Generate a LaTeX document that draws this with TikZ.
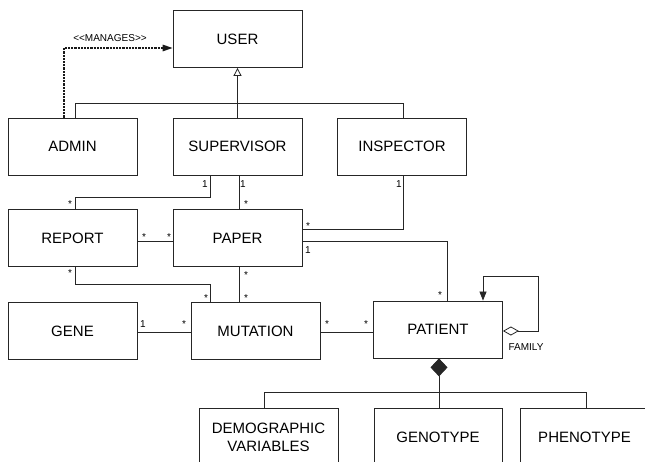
\documentclass[tikz,border=0pt]{standalone}
\usepackage{fontspec}
\setmainfont{Liberation Sans}
\usetikzlibrary{arrows.meta}

\tikzset{
  cls/.style={draw, minimum width=129pt, minimum height=57pt, inner sep=0pt,
    align=center, font=\fontsize{15}{18}\selectfont},
  lnk/.style={line width=0.8pt, draw=black!85},
  mult/.style={inner sep=0pt, font=\fontsize{10}{12}\selectfont},
  small/.style={inner sep=0pt, font=\fontsize{10}{12}\selectfont},
}

\begin{document}
\begin{tikzpicture}[x=1pt, y=-1pt, line width=0.8pt, draw=black!85]
\useasboundingbox (0,0) rectangle (645,462);
\clip (0,0) rectangle (645,462);

% classes
\node[cls] (USER)       at (237.5, 39)   {USER};
\node[cls] (ADMIN)      at (72.5, 146.5) {ADMIN};
\node[cls] (SUPERVISOR) at (237.5, 146.5){SUPERVISOR};
\node[cls] (INSPECTOR)  at (402, 146.5)  {INSPECTOR};
\node[cls] (REPORT)     at (72.5, 238)   {REPORT};
\node[cls] (PAPER)      at (237.5, 238)  {PAPER};
\node[cls] (GENE)       at (72.5, 331)   {GENE};
\node[cls] (MUTATION)   at (255.5, 331)  {MUTATION};
\node[cls] (PATIENT)    at (438, 329.5)  {PATIENT};
\node[cls, minimum width=139pt] (DEMO) at (268.5, 437) {DEMOGRAPHIC\\VARIABLES};
\node[cls, minimum width=128pt] (GENO) at (438, 437)   {GENOTYPE};
\node[cls, minimum width=129pt] (PHENO) at (584.5, 437) {PHENOTYPE};

% generalization of the user roles
\coordinate (gA) at (75,103);
\coordinate (gI) at (403,103);
\draw[lnk, -{Triangle[open, length=8pt, width=8pt]}] (SUPERVISOR.north) -- (USER.south);
\draw[lnk] (gA |- ADMIN.north) -- (gA) -- (gI) -- (gI |- INSPECTOR.north);

% dependency
\coordinate (m) at (64,48);
\draw[lnk, line width=1.4pt, draw=black!90, dash pattern=on 2.2pt off 1pt, -{Triangle[length=10pt, width=6.5pt]}]
  (m |- ADMIN.north) -- (m) -- (m -| USER.west);
\node[small] (mlab) at (110,38) {<{}<MANAGES>{}>};

% associations
\coordinate (sr) at (210,197);
\coordinate (rx) at (75,197);
\draw[lnk] (sr |- SUPERVISOR.south) -- (sr) -- (rx) -- (rx |- REPORT.north);
\coordinate (sp) at (239,0);
\draw[lnk] (sp |- SUPERVISOR.south) -- (sp |- PAPER.north);
\coordinate (rp) at (0,241);
\draw[lnk] (REPORT.east |- rp) -- (PAPER.west |- rp);
\coordinate (rm1) at (75,284);
\coordinate (rm2) at (210,284);
\draw[lnk] (rm1 |- REPORT.south) -- (rm1) -- (rm2) -- (rm2 |- MUTATION.north);
\draw[lnk] (sp |- PAPER.south) -- (sp |- MUTATION.north);
\coordinate (ip) at (403,229);
\draw[lnk] (ip |- INSPECTOR.south) -- (ip) -- (ip -| PAPER.east);
\coordinate (pp) at (447,241);
\draw[lnk] (PAPER.east |- pp) -- (pp) -- (pp |- PATIENT.north);
\coordinate (gm) at (0,332);
\draw[lnk] (GENE.east |- gm) -- (MUTATION.west |- gm);
\draw[lnk] (MUTATION.east |- gm) -- (PATIENT.west |- gm);

% family self association
\coordinate (f1) at (538,331);
\coordinate (f2) at (483,276);
\draw[lnk, {Diamond[open, length=16pt, width=9pt]}-{Triangle[length=9pt, width=7pt]}]
  (PATIENT.east |- f1) -- (f1) -- (f1 |- f2) -- (f2) -- (f2 |- PATIENT.north);
\node[small] (flab) at (526,347.5) {FAMILY};

% composition
\coordinate (cc) at (439,392);
\coordinate (cD) at (264,392);
\coordinate (cP) at (586,392);
\draw[lnk, {Diamond[length=18pt, width=17pt]}-] (cc |- PATIENT.south) -- (cc);
\draw[lnk] (cD) -- (cP);
\draw[lnk] (cD) -- (cD |- DEMO.north);
\draw[lnk] (cc) -- (cc |- GENO.north);
\draw[lnk] (cP) -- (cP |- PHENO.north);

% multiplicities
\node[mult] (m1)  at (205,184) {1};
\node[mult] (m2)  at (70,204)  {*};
\node[mult] (m3)  at (243,184) {1};
\node[mult] (m4)  at (246,204) {*};
\node[mult] (m5)  at (144,237) {*};
\node[mult] (m6)  at (169,237) {*};
\node[mult] (m7)  at (70,273)  {*};
\node[mult] (m8)  at (206,298) {*};
\node[mult] (m9)  at (246,275) {*};
\node[mult] (m10) at (246,298) {*};
\node[mult] (m11) at (399,184) {1};
\node[mult] (m12) at (308,226) {*};
\node[mult] (m13) at (308,250) {1};
\node[mult] (m14) at (440,295) {*};
\node[mult] (m15) at (143,324) {1};
\node[mult] (m16) at (184,324) {*};
\node[mult] (m17) at (327,324) {*};
\node[mult] (m18) at (366,324) {*};
\end{tikzpicture}
\end{document}
